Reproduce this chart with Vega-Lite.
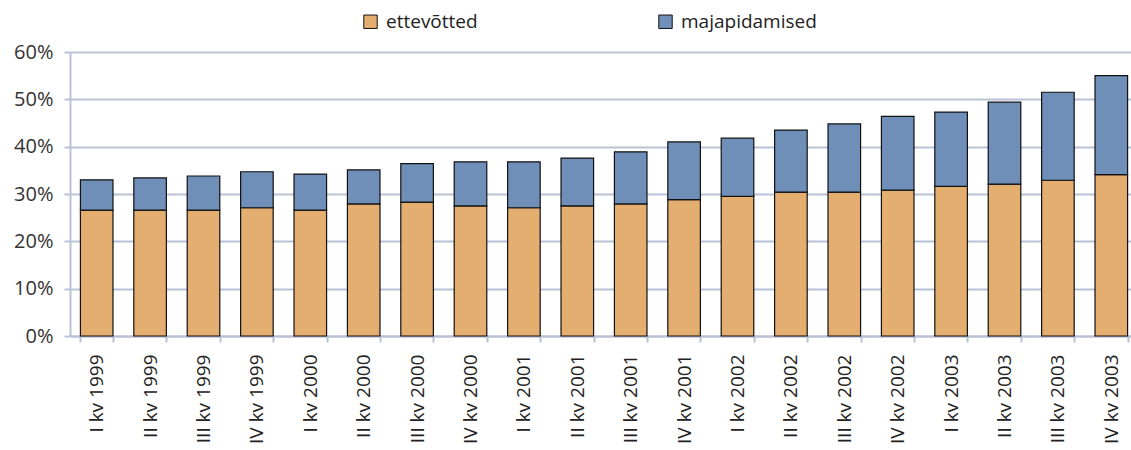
{
  "$schema": "https://vega.github.io/schema/vega-lite/v6.json",
  "autosize": "none",
  "width": 1068,
  "height": 284,
  "padding": {"left": 70, "top": 52, "right": 0, "bottom": 114},
  "background": "white",
  "data": {"values": [
    {"kvartal": "I kv 1999", "sektor": "ettevõtted", "vaartus": 26.6},
    {"kvartal": "I kv 1999", "sektor": "majapidamised", "vaartus": 6.4},
    {"kvartal": "II kv 1999", "sektor": "ettevõtted", "vaartus": 26.6},
    {"kvartal": "II kv 1999", "sektor": "majapidamised", "vaartus": 6.8},
    {"kvartal": "III kv 1999", "sektor": "ettevõtted", "vaartus": 26.6},
    {"kvartal": "III kv 1999", "sektor": "majapidamised", "vaartus": 7.2},
    {"kvartal": "IV kv 1999", "sektor": "ettevõtted", "vaartus": 27.1},
    {"kvartal": "IV kv 1999", "sektor": "majapidamised", "vaartus": 7.6},
    {"kvartal": "I kv 2000", "sektor": "ettevõtted", "vaartus": 26.6},
    {"kvartal": "I kv 2000", "sektor": "majapidamised", "vaartus": 7.6},
    {"kvartal": "II kv 2000", "sektor": "ettevõtted", "vaartus": 27.9},
    {"kvartal": "II kv 2000", "sektor": "majapidamised", "vaartus": 7.2},
    {"kvartal": "III kv 2000", "sektor": "ettevõtted", "vaartus": 28.3},
    {"kvartal": "III kv 2000", "sektor": "majapidamised", "vaartus": 8.1},
    {"kvartal": "IV kv 2000", "sektor": "ettevõtted", "vaartus": 27.5},
    {"kvartal": "IV kv 2000", "sektor": "majapidamised", "vaartus": 9.3},
    {"kvartal": "I kv 2001", "sektor": "ettevõtted", "vaartus": 27.1},
    {"kvartal": "I kv 2001", "sektor": "majapidamised", "vaartus": 9.7},
    {"kvartal": "II kv 2001", "sektor": "ettevõtted", "vaartus": 27.5},
    {"kvartal": "II kv 2001", "sektor": "majapidamised", "vaartus": 10.1},
    {"kvartal": "III kv 2001", "sektor": "ettevõtted", "vaartus": 27.9},
    {"kvartal": "III kv 2001", "sektor": "majapidamised", "vaartus": 11.0},
    {"kvartal": "IV kv 2001", "sektor": "ettevõtted", "vaartus": 28.8},
    {"kvartal": "IV kv 2001", "sektor": "majapidamised", "vaartus": 12.2},
    {"kvartal": "I kv 2002", "sektor": "ettevõtted", "vaartus": 29.5},
    {"kvartal": "I kv 2002", "sektor": "majapidamised", "vaartus": 12.3},
    {"kvartal": "II kv 2002", "sektor": "ettevõtted", "vaartus": 30.4},
    {"kvartal": "II kv 2002", "sektor": "majapidamised", "vaartus": 13.1},
    {"kvartal": "III kv 2002", "sektor": "ettevõtted", "vaartus": 30.4},
    {"kvartal": "III kv 2002", "sektor": "majapidamised", "vaartus": 14.4},
    {"kvartal": "IV kv 2002", "sektor": "ettevõtted", "vaartus": 30.8},
    {"kvartal": "IV kv 2002", "sektor": "majapidamised", "vaartus": 15.6},
    {"kvartal": "I kv 2003", "sektor": "ettevõtted", "vaartus": 31.6},
    {"kvartal": "I kv 2003", "sektor": "majapidamised", "vaartus": 15.7},
    {"kvartal": "II kv 2003", "sektor": "ettevõtted", "vaartus": 32.1},
    {"kvartal": "II kv 2003", "sektor": "majapidamised", "vaartus": 17.3},
    {"kvartal": "III kv 2003", "sektor": "ettevõtted", "vaartus": 32.9},
    {"kvartal": "III kv 2003", "sektor": "majapidamised", "vaartus": 18.6},
    {"kvartal": "IV kv 2003", "sektor": "ettevõtted", "vaartus": 34.1},
    {"kvartal": "IV kv 2003", "sektor": "majapidamised", "vaartus": 20.9}
  ]},
  "mark": {"type": "bar", "stroke": "#111111", "strokeWidth": 1.2},
  "encoding": {
    "x": {
      "field": "kvartal", "type": "nominal", "sort": null,
      "scale": {"paddingInner": 0.39, "paddingOuter": 0.195},
      "axis": {
        "title": null, "labelAngle": 270, "labelAlign": "right", "labelBaseline": "middle",
        "labelFont": "Open Sans", "labelFontSize": 19, "labelColor": "#222222",
        "labelPadding": 12, "tickBand": "extent", "tickSize": 6, "tickColor": "#b9c1d6", "tickWidth": 2,
        "domainColor": "#b9c1d6", "domainWidth": 2, "grid": false
      }
    },
    "y": {
      "field": "vaartus", "type": "quantitative", "stack": "zero",
      "scale": {"domain": [0, 60], "nice": false},
      "axis": {
        "title": null, "values": [0, 10, 20, 30, 40, 50, 60],
        "labelExpr": "datum.value + '%'",
        "labelFont": "Open Sans", "labelFontSize": 20, "labelColor": "#333333", "labelPadding": 11,
        "tickSize": 6, "tickColor": "#b9c1d6", "tickWidth": 2,
        "domainColor": "#b9c1d6", "domainWidth": 2,
        "grid": true, "gridColor": "#b9c1d6", "gridWidth": 2
      }
    },
    "color": {
      "field": "sektor", "type": "nominal",
      "scale": {"domain": ["ettevõtted", "majapidamised"], "range": ["#e4ae70", "#6f8fb8"]},
      "legend": {
        "title": null, "orient": "none", "legendX": 291, "legendY": -40,
        "direction": "horizontal", "columns": 2, "columnPadding": 178,
        "symbolType": "square", "symbolSize": 180, "symbolStrokeColor": "#111111", "symbolStrokeWidth": 1,
        "labelFont": "Open Sans", "labelFontSize": 19, "labelColor": "#222222", "labelOffset": 6
      }
    },
    "order": {"field": "sektor", "sort": "ascending"}
  },
  "config": {"view": {"stroke": null}}
}
